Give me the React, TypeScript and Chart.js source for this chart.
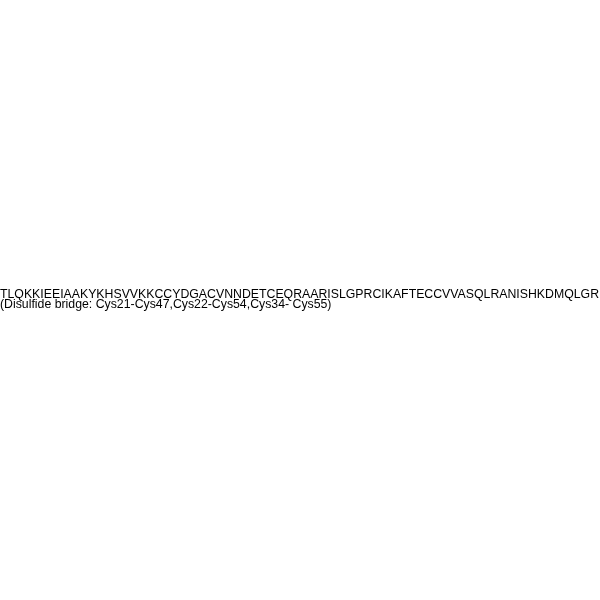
import { Chart, registerables } from "chart.js";
import React, { useEffect, useRef } from "react";

Chart.register(...registerables);

// text lines shown in the picture (no data marks, only the peptide label)
const textLines: string[] = [
  "TLQKKIEEIAAKYKHSVVKKCCYDGACVNNDETCEQRAARISLGPRCIKAFTECCVVASQLRANISHKDMQLGR",
  "(Disulfide bridge: Cys21-Cys47,Cys22-Cys54,Cys34- Cys55)",
];
// baseline of each line, in the hidden y-scale's units (0 = top, 600 = bottom)
const lineBaselines: number[] = [297.5, 308];
const lineStarts: number[] = [0, 0];

const App: React.FC = () => {
  const chartRef = useRef<HTMLCanvasElement | null>(null);
  const chartInstance = useRef<Chart | null>(null);

  useEffect(() => {
    document.body.style.margin = "0";
    if (chartInstance.current) {
      chartInstance.current.destroy();
    }

    const textPlugin = {
      id: "sequenceText",
      afterDraw(chart: any) {
        const ctx: CanvasRenderingContext2D = chart.ctx;
        const xs = chart.scales.x;
        const ys = chart.scales.y;
        ctx.save();
        ctx.font = "12.3px 'Liberation Sans', Arial, sans-serif";
        ctx.fillStyle = "#000000";
        ctx.textAlign = "left";
        ctx.textBaseline = "alphabetic";
        textLines.forEach((line, i) => {
          ctx.fillText(
            line,
            xs.getPixelForValue(lineStarts[i]),
            ys.getPixelForValue(lineBaselines[i])
          );
        });
        ctx.restore();
      },
    };

    if (chartRef.current) {
      chartInstance.current = new Chart(chartRef.current, {
        type: "scatter",
        data: { datasets: [{ data: [] }] },
        options: {
          animation: false,
          responsive: false,
          layout: { padding: 0 },
          plugins: { legend: { display: false }, tooltip: { enabled: false } },
          scales: {
            x: { type: "linear", min: 0, max: 600, display: false },
            y: { type: "linear", min: 0, max: 600, reverse: true, display: false },
          },
        },
        plugins: [textPlugin],
      });
    }

    return () => {
      if (chartInstance.current) {
        chartInstance.current.destroy();
      }
    };
  }, []);

  return (
    <div style={{ width: 600, height: 600, background: "#ffffff" }}>
      <canvas ref={chartRef} width={600} height={600}></canvas>
    </div>
  );
};

export default App;
